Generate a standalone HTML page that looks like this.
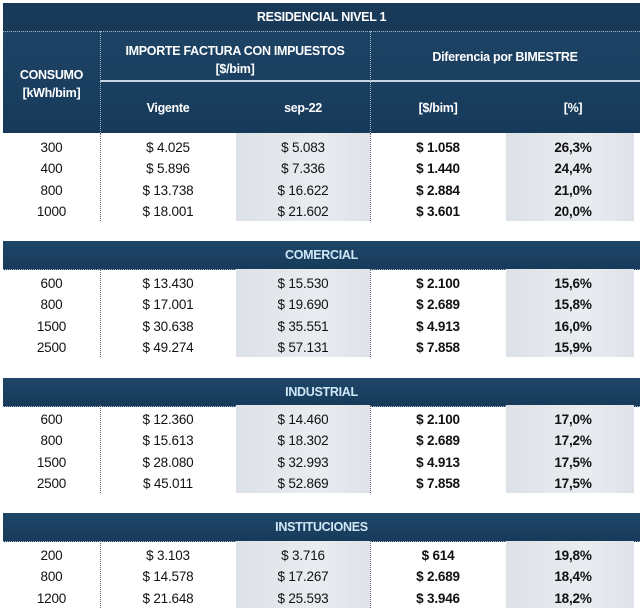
<!DOCTYPE html>
<html><head><meta charset="utf-8">
<style>
body{margin:0;width:642px;height:612px;background:#fff;overflow:hidden;position:relative;font-family:"Liberation Sans",Arial,sans-serif;}
.a{position:absolute;box-sizing:border-box;}
.hd{background:linear-gradient(#1f4668,#173a5a);}
.t{position:absolute;text-align:center;font-weight:bold;color:#fff;font-size:12.5px;letter-spacing:-0.3px;}
.sec{color:#cfe8f7;}
.shade{background:linear-gradient(90deg,#dde2e8,#e9ecf0 60%,#dfe3e9);}
.c{position:absolute;text-align:center;font-size:13.5px;color:#111;letter-spacing:-0.2px;line-height:21px;}
.b{font-weight:bold;}
.vd{position:absolute;width:0;border-left:1px dotted #5a6470;}
.hdot{position:absolute;height:0;border-top:1px dotted #9fb6cc;}
</style></head>
<body>
<div class="a hd" style="left:3px;top:3px;width:637px;height:130px;"></div>
<div class="a" style="left:3px;top:3px;width:637px;height:28px;background:#183a58;"></div>
<div class="hdot" style="left:3px;top:31px;width:637px;"></div>
<div class="a" style="left:100px;top:80px;width:540px;height:2px;background:#c8d6e2;"></div>
<div class="vd" style="left:100px;top:31px;height:102px;border-left-color:#9fb6cc;"></div>
<div class="vd" style="left:370px;top:31px;height:102px;border-left-color:#9fb6cc;"></div>
<div class="t" style="left:3px;top:10px;width:637px;">RESIDENCIAL NIVEL 1</div>
<div class="t" style="left:3px;top:66px;width:97px;line-height:18px;">CONSUMO<br>[kWh/bim]</div>
<div class="t" style="left:100px;top:42px;width:270px;line-height:18px;">IMPORTE FACTURA CON IMPUESTOS<br>[$/bim]</div>
<div class="t" style="left:370px;top:50px;width:270px;">Diferencia por BIMESTRE</div>
<div class="t" style="left:100px;top:101px;width:136px;">Vigente</div>
<div class="t" style="left:236px;top:101px;width:134px;">sep-22</div>
<div class="t" style="left:370px;top:101px;width:136px;">[$/bim]</div>
<div class="t" style="left:506px;top:101px;width:134px;">[%]</div>
<div id="root"></div>
<script>
const sectionNames=["RESIDENCIAL NIVEL 1","COMERCIAL","INDUSTRIAL","INSTITUCIONES"];
const consumo=[["300","400","800","1000"],["600","800","1500","2500"],["600","800","1500","2500"],["200","800","1200"]];
const vigente=[["$ 4.025","$ 5.896","$ 13.738","$ 18.001"],["$ 13.430","$ 17.001","$ 30.638","$ 49.274"],["$ 12.360","$ 15.613","$ 28.080","$ 45.011"],["$ 3.103","$ 14.578","$ 21.648"]];
const sep22=[["$ 5.083","$ 7.336","$ 16.622","$ 21.602"],["$ 15.530","$ 19.690","$ 35.551","$ 57.131"],["$ 14.460","$ 18.302","$ 32.993","$ 52.869"],["$ 3.716","$ 17.267","$ 25.593"]];
const diffAmt=[["$ 1.058","$ 1.440","$ 2.884","$ 3.601"],["$ 2.100","$ 2.689","$ 4.913","$ 7.858"],["$ 2.100","$ 2.689","$ 4.913","$ 7.858"],["$ 614","$ 2.689","$ 3.946"]];
const diffPct=[["26,3%","24,4%","21,0%","20,0%"],["15,6%","15,8%","16,0%","15,9%"],["17,0%","17,2%","17,5%","17,5%"],["19,8%","18,4%","18,2%"]];
const root=document.getElementById('root');
const dataTop=[135,271,407,543];
const secTop=[null,241,378,513];
const rowH=21.3;
const colX=[3,100,236,370,506,640];
function mk(cls,style,txt){const d=document.createElement('div');d.className=cls;d.style.cssText=style;if(txt!=null)d.textContent=txt;root.appendChild(d);return d;}
for(let s=0;s<4;s++){
  if(secTop[s]!=null){
    const h=mk('a hd','left:3px;top:'+secTop[s]+'px;width:637px;height:29px;');
    
    
    mk('hdot','left:3px;top:'+(secTop[s]+28)+'px;width:637px;');
    const t=mk('t sec','left:3px;top:'+(secTop[s]+7)+'px;width:637px;',sectionNames[s]);
    
    
  }
  const n=consumo[s].length, top=dataTop[s], h=n*rowH+2;
  mk('a shade','left:236px;top:'+(top-2)+'px;width:134px;height:'+(h+1)+'px;');
  mk('a shade','left:506px;top:'+(top-2)+'px;width:128px;height:'+(h+1)+'px;');
  mk('vd','left:100px;top:'+(top-2)+'px;height:'+(h+1)+'px;');
  mk('vd','left:370px;top:'+(top-2)+'px;height:'+(h+1)+'px;');
  const cols=[consumo[s],vigente[s],sep22[s],diffAmt[s],diffPct[s]];
  for(let r=0;r<n;r++){
    for(let c=0;c<5;c++){
      const bold=c>=3?' b':'';
      const cell=mk('c'+bold,'left:'+colX[c]+'px;top:'+(top+2+r*rowH)+'px;width:'+(colX[c+1]-colX[c])+'px;',cols[c][r]);
      
      
    }
  }
}
</script>
</body></html>
